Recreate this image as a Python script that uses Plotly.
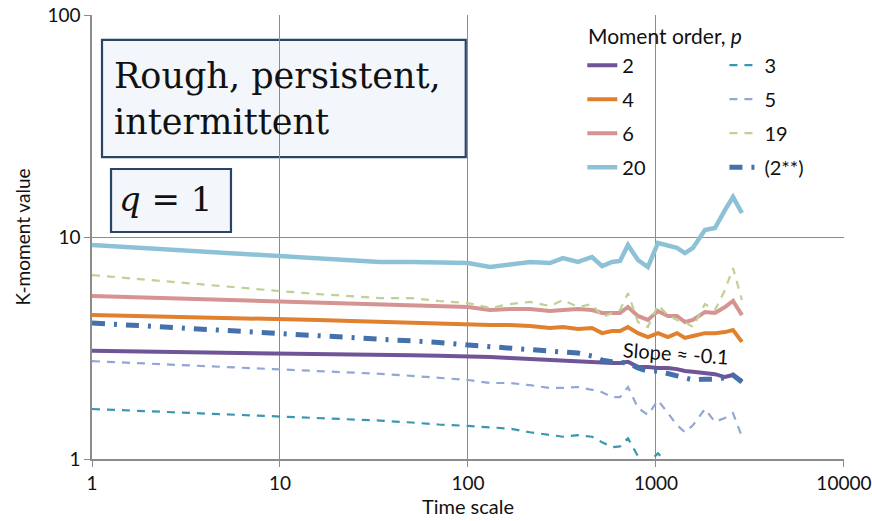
import plotly.graph_objects as go

# Time scales (shared by all series)
scales = [1, 2, 4, 6, 10, 16, 24, 34, 50, 70, 100, 131, 167, 214, 273, 320, 385, 457, 517,
          584, 644, 710, 802, 906, 1025, 1158, 1294, 1427, 1573, 1822, 2060, 2328, 2570, 2867]

p2 = [3.07, 3.05, 3.03, 3.02, 3.00, 2.98, 2.96, 2.95, 2.93, 2.92, 2.91, 2.88, 2.85, 2.82, 2.79, 2.76,
      2.76, 2.74, 2.71, 2.71, 2.71, 2.74, 2.60, 2.60, 2.57, 2.57, 2.54, 2.49, 2.47, 2.44, 2.41, 2.34,
      2.39, 2.25]
p3 = [1.68, 1.64, 1.61, 1.59, 1.56, 1.53, 1.51, 1.49, 1.46, 1.43, 1.41, 1.39, 1.37, 1.32, 1.28, 1.26,
      1.28, 1.26, 1.19, 1.13, 1.14, 1.24, 1.03, 0.96, 1.06, 0.96, 0.90, 0.85, 0.88, 0.95, 0.90, 0.92,
      0.93, 0.85]
p4 = [4.45, 4.40, 4.35, 4.31, 4.27, 4.23, 4.18, 4.14, 4.12, 4.10, 4.06, 4.01, 4.01, 3.97, 3.89, 3.93,
      3.85, 3.89, 3.69, 3.77, 3.77, 3.93, 3.69, 3.54, 3.69, 3.54, 3.69, 3.51, 3.58, 3.69, 3.69, 3.73,
      3.81, 3.37]
p5 = [2.76, 2.69, 2.63, 2.59, 2.54, 2.49, 2.46, 2.42, 2.37, 2.32, 2.27, 2.20, 2.20, 2.15, 2.09, 2.09,
      2.11, 2.05, 2.00, 1.90, 1.90, 2.11, 1.70, 1.58, 1.84, 1.61, 1.42, 1.32, 1.42, 1.68, 1.47, 1.53,
      1.61, 1.26]
p6 = [5.42, 5.33, 5.22, 5.16, 5.10, 5.04, 4.99, 4.94, 4.91, 4.89, 4.84, 4.69, 4.74, 4.74, 4.64, 4.69,
      4.74, 4.69, 4.55, 4.55, 4.55, 4.84, 4.41, 4.23, 4.64, 4.41, 4.41, 4.14, 4.23, 4.59, 4.55, 4.84,
      5.15, 4.45]
p19 = [6.74, 6.40, 6.10, 5.90, 5.71, 5.53, 5.42, 5.31, 5.31, 5.15, 5.04, 4.79, 4.99, 5.10, 4.89, 5.20,
       4.84, 4.99, 4.36, 4.55, 4.69, 5.59, 4.14, 3.93, 4.94, 4.45, 4.23, 4.14, 3.93, 4.99, 4.69, 5.77,
       7.25, 5.20]
p20 = [9.20, 8.90, 8.60, 8.43, 8.21, 8.04, 7.88, 7.72, 7.72, 7.64, 7.64, 7.33, 7.56, 7.72, 7.64, 8.04,
       7.72, 8.13, 7.40, 7.72, 7.80, 9.20, 7.88, 7.33, 9.40, 9.11, 8.93, 8.47, 8.93, 10.75, 10.98, 13.23,
       15.14, 12.83]
p2ss = [4.10, 3.97, 3.85, 3.78, 3.69, 3.62, 3.56, 3.49, 3.43, 3.35, 3.26, 3.20, 3.16, 3.13, 3.07, 3.03,
        3.00, 2.91, 2.79, 2.74, 2.74, 2.71, 2.57, 2.49, 2.49, 2.44, 2.37, 2.32, 2.27, 2.29, 2.29, 2.32,
        2.39, 2.22]

x_ticks = [1, 10, 100, 1000, 10000]
y_ticks = [1, 10, 100]

FONT = "Lato"

series = [
    ("2", p2, "#6F5597", 4, "solid", "legend"),
    ("4", p4, "#E0812F", 4, "solid", "legend"),
    ("6", p6, "#D59391", 4, "solid", "legend"),
    ("20", p20, "#8DC2D6", 4.5, "solid", "legend"),
    ("3", p3, "#3A97B0", 2.2, "8px,7px", "legend2"),
    ("5", p5, "#93A7D4", 2.2, "8px,7px", "legend2"),
    ("19", p19, "#BCD296", 2.2, "8px,7px", "legend2"),
    ("(2**)", p2ss, "#4470AC", 5, "13px,9px,3px,9px", "legend2"),
]

fig = go.Figure()
for name, vals, color, w, dash, lg in series:
    fig.add_trace(go.Scatter(
        x=scales, y=vals, name=name, mode="lines",
        line=dict(color=color, width=w, dash=dash),
        legend=lg, legendgroup=name,
    ))

axis_common = dict(
    type="log", showgrid=True, gridcolor="#8C8C8C", gridwidth=1.3,
    showline=True, linecolor="#8C8C8C", linewidth=1.5,
    ticks="outside", ticklen=6, tickcolor="#8C8C8C", tickwidth=1.3,
    tickfont=dict(family=FONT, size=19, color="#111"), zeroline=False,
)

fig.update_layout(
    width=872, height=521,
    margin=dict(l=92, r=28, t=15, b=62, autoexpand=False),
    paper_bgcolor="white", plot_bgcolor="white",
    font=dict(family=FONT, color="#111"),
    xaxis=dict(axis_common, range=[0, 4.0004], tickvals=x_ticks,
               ticktext=[str(v) for v in x_ticks],
               title=dict(text="Time scale", font=dict(family=FONT, size=20), standoff=4)),
    yaxis=dict(axis_common, range=[0, 2.0003], tickvals=y_ticks,
               ticktext=[str(v) for v in y_ticks],
               title=dict(text="K-moment value", font=dict(family=FONT, size=19), standoff=12)),
    legend=dict(x=0.652, y=0.931, xanchor="left", yanchor="top", bgcolor="rgba(0,0,0,0)",
                font=dict(family=FONT, size=20), tracegroupgap=5, traceorder="grouped"),
    legend2=dict(x=0.841, y=0.931, xanchor="left", yanchor="top", bgcolor="rgba(0,0,0,0)",
                 font=dict(family=FONT, size=20), tracegroupgap=5, traceorder="grouped"),
    showlegend=True,
)

# Text boxes
box_style = dict(type="rect", xref="paper", yref="paper", layer="below",
                 fillcolor="#F3F6FB", line=dict(color="#2A4466", width=2.2))
fig.add_shape(box_style, x0=0.0133, x1=0.497, y0=0.680, y1=0.944)
fig.add_shape(box_style, x0=0.0253, x1=0.1848, y0=0.5113, y1=0.6532)

fig.add_annotation(xref="paper", yref="paper", x=0.0266, y=0.810, xanchor="left", yanchor="middle",
                   align="left", showarrow=False,
                   text="Rough, persistent,<br>intermittent",
                   font=dict(family="DejaVu Serif", size=35, color="#111"))
fig.add_annotation(xref="paper", yref="paper", x=0.0985, y=0.585, xanchor="center", yanchor="middle",
                   showarrow=False, text="<i>q</i> = 1",
                   font=dict(family="DejaVu Serif", size=34, color="#111"))

# Legend title
fig.add_annotation(xref="paper", yref="paper", x=0.7625, y=0.953, xanchor="center", yanchor="middle",
                   showarrow=False, text="Moment order, <i>p</i>",
                   font=dict(family=FONT, size=21, color="#111"))

# Slope note
fig.add_annotation(xref="paper", yref="paper", x=0.7766, y=0.2387, xanchor="center", yanchor="middle",
                   showarrow=False, text="Slope ≈ -0.1", textangle=4,
                   font=dict(family=FONT, size=20, color="#111"))

fig.write_html("out.html")
